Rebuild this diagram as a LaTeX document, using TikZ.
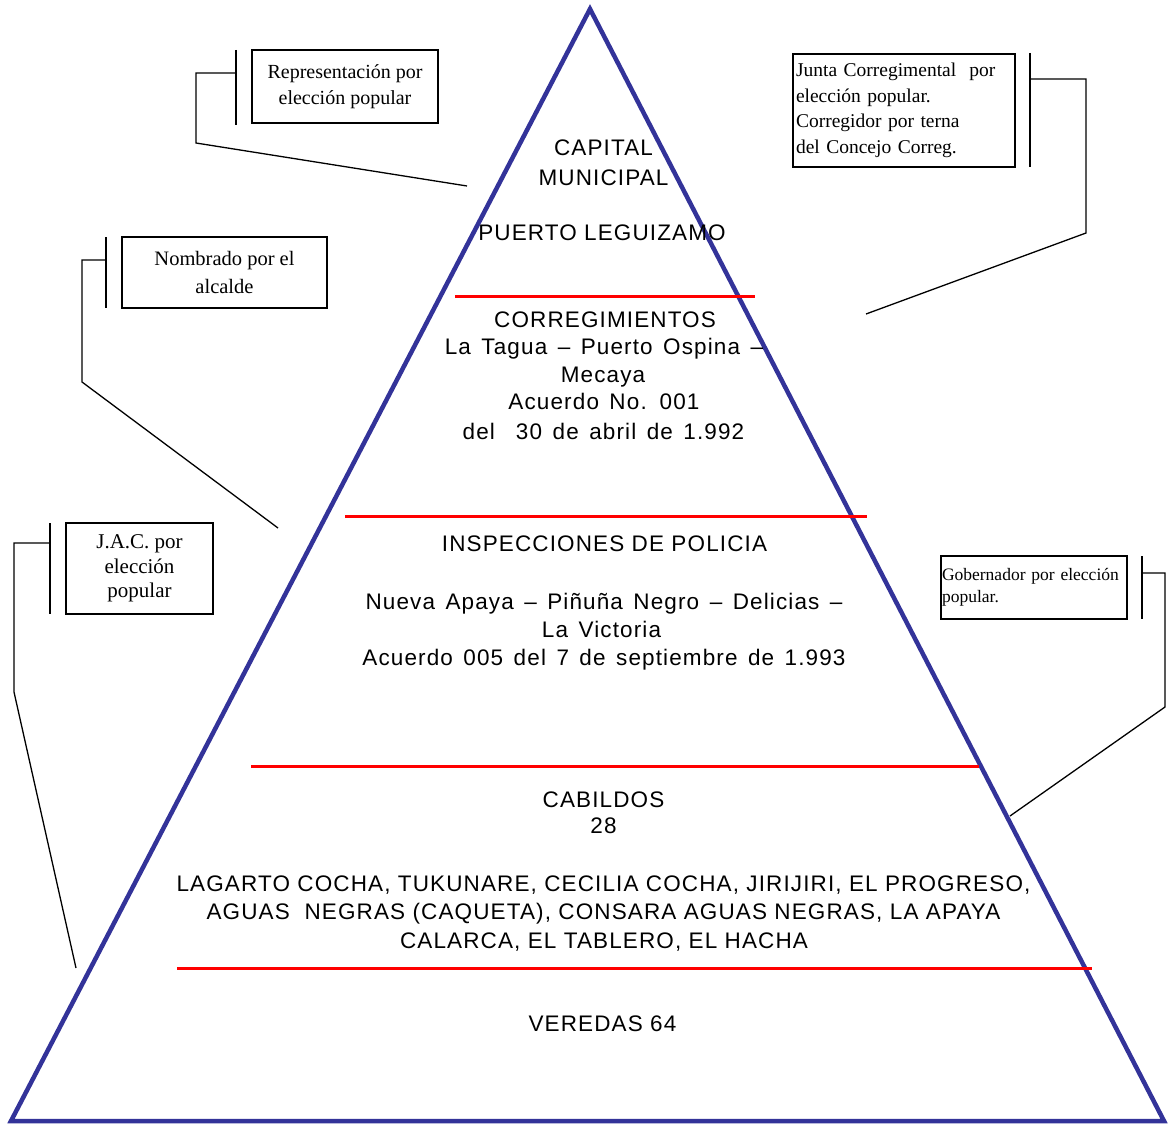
\documentclass[tikz,border=0pt]{standalone}
\usepackage{fontspec}
\setmainfont{Liberation Serif}
\newfontfamily\pyrfont{Liberation Sans}[LetterSpace=5]
\definecolor{pyrblue}{RGB}{51,51,153}
\definecolor{sepred}{RGB}{255,0,0}
\begin{document}
\begin{tikzpicture}[x=1pt,y=-1pt,
  pyr/.style={draw=pyrblue, line width=4.5pt, line join=miter},
  sepline/.style={draw=sepred, line width=3pt},
  lvl/.style={font=\pyrfont\fontsize{22.5}{28}\selectfont, anchor=base, inner sep=0pt},
  wide/.style={execute at begin node={\spaceskip=10.5pt plus 1pt\relax}},
  note/.style={draw, line width=1.3pt, inner sep=2pt},
  lead/.style={line width=1.3pt}]
\useasboundingbox (0,0) rectangle (1168,1124);
% pyramid
\coordinate (apex) at (590,9);
\coordinate (bl) at (11,1121);
\coordinate (br) at (1164,1121);
\draw[pyr] (apex) -- (bl) -- (br) -- cycle;
% separators
\coordinate (s1a) at (455,296); \coordinate (s1b) at (755,296);
\coordinate (s2a) at (345,516); \coordinate (s2b) at (867,516);
\coordinate (s3a) at (251,766); \coordinate (s3b) at (979,766);
\coordinate (s4a) at (177,968); \coordinate (s4b) at (1092,968);
\draw[sepline] (s1a) -- (s1b);
\draw[sepline] (s2a) -- (s2b);
\draw[sepline] (s3a) -- (s3b);
\draw[sepline] (s4a) -- (s4b);
% level texts
\node[lvl] (t1) at (603.5,155) {CAPITAL};
\node[lvl] (t2) at (603.5,185) {MUNICIPAL};
\node[lvl] (t3) at (602,240) {PUERTO LEGUIZAMO};
\node[lvl] (t4) at (605,327) {CORREGIMIENTOS};
\node[lvl,wide] (t5) at (604,354) {La Tagua – Puerto Ospina –};
\node[lvl] (t6) at (603,382) {Mecaya};
\node[lvl,wide] (t7) at (604,409) {Acuerdo No. 001};
\node[lvl,wide] (t8) at (603.5,439) {del\ \ 30 de abril de 1.992};
\node[lvl] (t9) at (604.5,551) {INSPECCIONES DE POLICIA};
\node[lvl,wide] (t10) at (604,609) {Nueva Apaya – Piñuña Negro – Delicias –};
\node[lvl,wide] (t11) at (601.5,637) {La Victoria};
\node[lvl,wide] (t12) at (604,665) {Acuerdo 005 del 7 de septiembre de 1.993};
\node[lvl] (t13) at (603.5,807) {CABILDOS};
\node[lvl] (t14) at (603.5,833) {28};
\node[lvl] (t15) at (603.5,891) {LAGARTO COCHA, TUKUNARE, CECILIA COCHA, JIRIJIRI, EL PROGRESO,};
\node[lvl] (t16) at (603.5,919) {AGUAS\ \ NEGRAS (CAQUETA), CONSARA AGUAS NEGRAS, LA APAYA};
\node[lvl] (t17) at (604,948) {CALARCA, EL TABLERO, EL HACHA};
\node[lvl] (t18) at (602.5,1031) {VEREDAS 64};
% note boxes
\node[note, minimum width=186pt, minimum height=73pt, align=center,
  font=\fontsize{20}{25.5}\selectfont] (repr) at (345,86.5) {Representación por\\elección popular};
\node[note, minimum width=222pt, minimum height=113pt, text width=216pt, align=left,
  font=\fontsize{19.5}{25.5}\selectfont] (junta) at (904,110.5) {Junta Corregimental\ \ por\\elección popular.\\Corregidor por terna\\del Concejo Correg.};
\node[note, minimum width=205pt, minimum height=71pt, align=center,
  font=\fontsize{20.5}{28}\selectfont] (nomb) at (224.5,272.5) {Nombrado por el\\alcalde};
\node[note, minimum width=147pt, minimum height=91pt, align=center,
  font=\fontsize{21}{24.5}\selectfont] (jac) at (139.5,568.5) {J.A.C. por\\elección\\popular};
\node[note, minimum width=186pt, minimum height=63pt, text width=184pt, align=left, inner sep=1pt,
  font=\fontsize{17.5}{22}\selectfont] (gob) at (1034,587.5) {Gobernador por elección\\popular.};
% brackets and leader lines
\coordinate (rb1) at (236,50);  \coordinate (rb2) at (236,125);
\coordinate (rl1) at (236,73);  \coordinate (rl2) at (196,73);
\coordinate (rl3) at (196,143); \coordinate (rl4) at (467,186);
\draw[lead] (rb1) -- (rb2);
\draw[lead] (rl1) -- (rl2) -- (rl3) -- (rl4);
\coordinate (jb1) at (1030,53);  \coordinate (jb2) at (1030,167);
\coordinate (jl1) at (1030,79);  \coordinate (jl2) at (1086,79);
\coordinate (jl3) at (1086,233); \coordinate (jl4) at (866,314);
\draw[lead] (jb1) -- (jb2);
\draw[lead] (jl1) -- (jl2) -- (jl3) -- (jl4);
\coordinate (nb1) at (106,237);  \coordinate (nb2) at (106,308);
\coordinate (nl1) at (106,260);  \coordinate (nl2) at (82,260);
\coordinate (nl3) at (82,382);   \coordinate (nl4) at (278,528);
\draw[lead] (nb1) -- (nb2);
\draw[lead] (nl1) -- (nl2) -- (nl3) -- (nl4);
\coordinate (ab1) at (50,523);  \coordinate (ab2) at (50,614);
\coordinate (al1) at (50,543);  \coordinate (al2) at (14,543);
\coordinate (al3) at (14,692);  \coordinate (al4) at (76,968);
\draw[lead] (ab1) -- (ab2);
\draw[lead] (al1) -- (al2) -- (al3) -- (al4);
\coordinate (gb1) at (1142,556);  \coordinate (gb2) at (1142,619);
\coordinate (gl1) at (1142,573);  \coordinate (gl2) at (1165,573);
\coordinate (gl3) at (1165,707);  \coordinate (gl4) at (1010,816);
\draw[lead] (gb1) -- (gb2);
\draw[lead] (gl1) -- (gl2) -- (gl3) -- (gl4);
\end{tikzpicture}
\end{document}
